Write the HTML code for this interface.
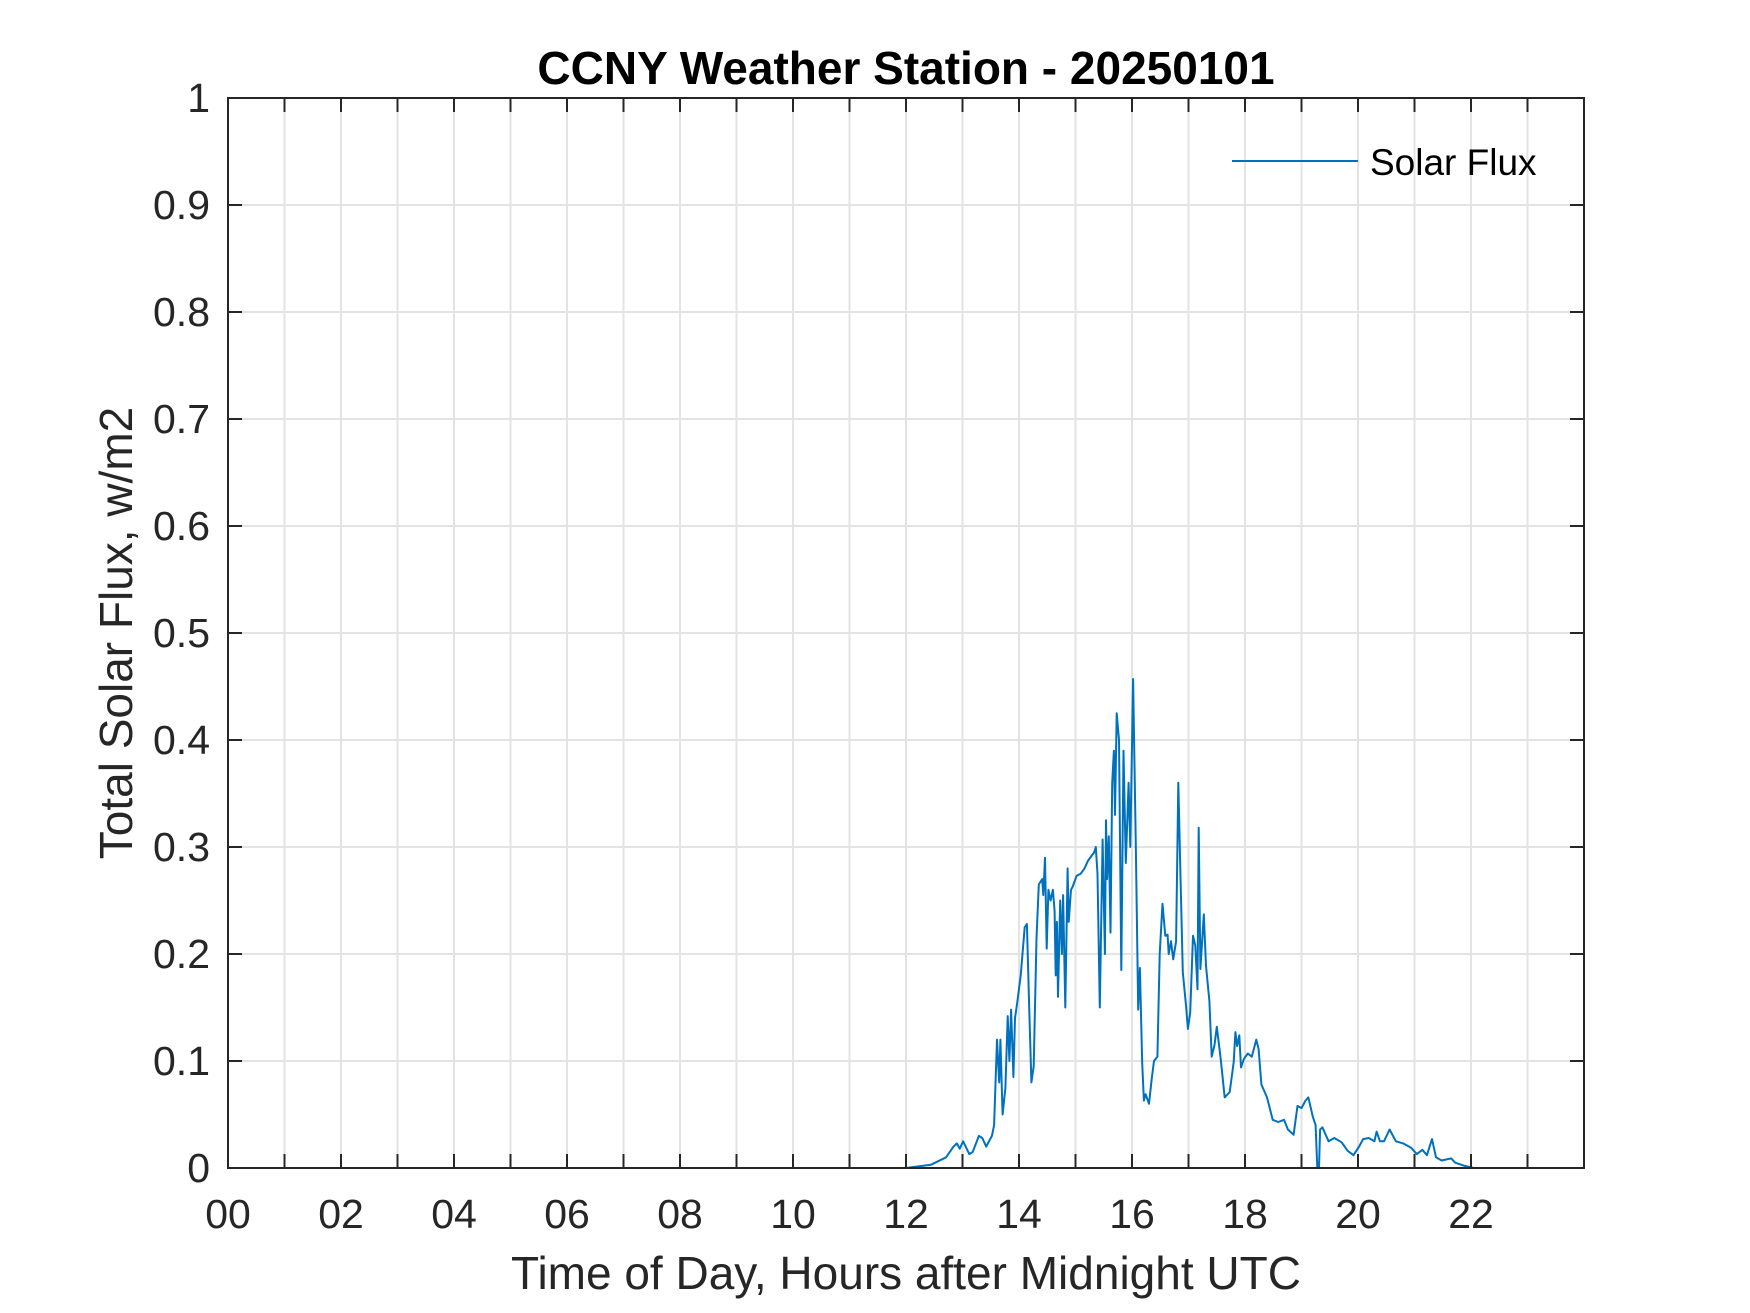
<!DOCTYPE html>
<html><head><meta charset="utf-8"><style>
html,body{margin:0;padding:0;background:#fff;}
svg{display:block;font-family:"Liberation Sans",Arial,sans-serif;}
</style></head><body>
<svg id="chart" width="1750" height="1313" viewBox="0 0 1750 1313">
<rect x="0" y="0" width="1750" height="1313" fill="#fff"/>
<g id="grid"></g>
<g id="series"></g>
<g id="axes"></g>
<text x="906" y="84" text-anchor="middle" font-size="46" font-weight="bold" fill="#000">CCNY Weather Station - 20250101</text>
<text x="906" y="1289" text-anchor="middle" font-size="46" fill="#262626">Time of Day, Hours after Midnight UTC</text>
<text transform="translate(132,633) rotate(-90)" text-anchor="middle" font-size="46" fill="#262626">Total Solar Flux, w/m2</text>
<g>
<line x1="1232" y1="161" x2="1358" y2="161" stroke="#0072BD" stroke-width="2"/>
<text x="1370" y="175" font-size="37" fill="#000">Solar Flux</text>
</g>
</svg>
<script>
const hours = [0,12.0,12.44,12.71,12.84,12.90,12.95,13.01,13.12,13.18,13.29,13.35,13.42,13.52,13.56,13.61,13.65,13.67,13.71,13.76,13.80,13.83,13.86,13.90,13.93,13.97,14.03,14.10,14.14,14.18,14.22,14.26,14.31,14.35,14.41,14.43,14.46,14.49,14.52,14.56,14.60,14.63,14.65,14.67,14.69,14.73,14.76,14.78,14.82,14.86,14.88,14.92,14.95,15.02,15.09,15.16,15.22,15.33,15.36,15.39,15.43,15.48,15.52,15.54,15.56,15.59,15.62,15.65,15.68,15.70,15.73,15.77,15.81,15.85,15.89,15.94,15.97,16.02,16.07,16.11,16.14,16.18,16.21,16.24,16.30,16.35,16.39,16.45,16.49,16.54,16.59,16.63,16.65,16.69,16.73,16.78,16.82,16.86,16.90,16.96,16.99,17.03,17.08,17.12,17.16,17.18,17.21,17.27,17.31,17.37,17.41,17.46,17.50,17.57,17.64,17.73,17.80,17.83,17.86,17.90,17.93,17.98,18.05,18.12,18.20,18.24,18.29,18.39,18.49,18.59,18.69,18.76,18.86,18.93,19.00,19.07,19.12,19.20,19.25,19.28,19.31,19.33,19.37,19.48,19.58,19.71,19.82,19.92,20.02,20.09,20.19,20.29,20.33,20.39,20.46,20.56,20.67,20.80,20.94,21.04,21.14,21.22,21.31,21.38,21.48,21.65,21.72,21.89,22.05,23.98];
const flux = [0,0,0.003,0.01,0.02,0.023,0.018,0.025,0.013,0.015,0.03,0.028,0.02,0.03,0.04,0.12,0.08,0.12,0.05,0.075,0.142,0.1,0.148,0.085,0.14,0.155,0.18,0.225,0.228,0.15,0.08,0.095,0.215,0.265,0.27,0.255,0.29,0.205,0.26,0.25,0.26,0.24,0.18,0.23,0.16,0.25,0.2,0.255,0.15,0.28,0.23,0.26,0.263,0.273,0.275,0.28,0.287,0.295,0.3,0.275,0.15,0.307,0.2,0.325,0.27,0.31,0.22,0.36,0.39,0.33,0.425,0.4,0.185,0.39,0.285,0.36,0.3,0.457,0.29,0.148,0.187,0.098,0.063,0.069,0.06,0.084,0.10,0.104,0.2,0.247,0.217,0.218,0.2,0.212,0.195,0.212,0.36,0.268,0.183,0.15,0.13,0.145,0.217,0.208,0.167,0.318,0.186,0.237,0.189,0.156,0.104,0.115,0.132,0.102,0.066,0.071,0.099,0.127,0.114,0.124,0.094,0.102,0.107,0.104,0.12,0.111,0.078,0.066,0.045,0.043,0.045,0.036,0.031,0.058,0.056,0.063,0.066,0.048,0.04,0,0,0.036,0.038,0.025,0.028,0.024,0.016,0.012,0.02,0.027,0.028,0.025,0.034,0.025,0.025,0.036,0.025,0.023,0.019,0.013,0.017,0.012,0.027,0.01,0.007,0.009,0.005,0.002,0,0];
const xTickLabels = ["00","02","04","06","08","10","12","14","16","18","20","22"];
const yTickLabels = ["0","0.1","0.2","0.3","0.4","0.5","0.6","0.7","0.8","0.9","1"];

const L=228,R=1584,T=98,B=1168,XMAX=24,YMAX=1;
const NS='http://www.w3.org/2000/svg';
function xs(h){return L+(h/XMAX)*(R-L);}
function ys(v){return B-(v/YMAX)*(B-T);}
function mk(tag,attrs,parent){const e=document.createElementNS(NS,tag);for(const k in attrs)e.setAttribute(k,attrs[k]);parent.appendChild(e);return e;}
const grid=document.getElementById('grid'),axes=document.getElementById('axes'),series=document.getElementById('series');
for(let h=1;h<24;h++){
  const g=mk('line',{x1:xs(h),x2:xs(h),y1:T,y2:B,stroke:'#e3e3e3','stroke-width':2},grid);
  
  
}
for(let i=1;i<10;i++){
  const g=mk('line',{x1:L,x2:R,y1:ys(i/10),y2:ys(i/10),stroke:'#e3e3e3','stroke-width':2},grid);
  
  
}
let d='';
for(let i=0;i<hours.length;i++){d+=(i?'L':'M')+xs(hours[i]).toFixed(1)+' '+ys(flux[i]).toFixed(1);}
const p=mk('path',{d:d,fill:'none',stroke:'#0072BD','stroke-width':2,'stroke-linejoin':'round'},series);


const box=mk('rect',{x:L,y:T,width:R-L,height:B-T,fill:'none',stroke:'#262626','stroke-width':2},axes);


for(let h=0;h<24;h++){
  const t1=mk('line',{x1:xs(h),x2:xs(h),y1:B,y2:B-14,stroke:'#262626','stroke-width':2},axes);
  
  
  const t2=mk('line',{x1:xs(h),x2:xs(h),y1:T,y2:T+14,stroke:'#262626','stroke-width':2},axes);
  
  
}
xTickLabels.forEach((lab,i)=>{
  const t=mk('text',{x:xs(i*2),y:1228,'text-anchor':'middle','font-size':41,fill:'#262626'},axes);
  t.textContent=lab;
  
  
});
yTickLabels.forEach((lab,i)=>{
  const v=i/10;
  const a=mk('line',{x1:L,x2:L+14,y1:ys(v),y2:ys(v),stroke:'#262626','stroke-width':2},axes);
  
  
  const b=mk('line',{x1:R,x2:R-14,y1:ys(v),y2:ys(v),stroke:'#262626','stroke-width':2},axes);
  
  
  const t=mk('text',{x:210,y:ys(v)+14,'text-anchor':'end','font-size':41,fill:'#262626'},axes);
  t.textContent=lab;
  
  
});
</script>
</body></html>
